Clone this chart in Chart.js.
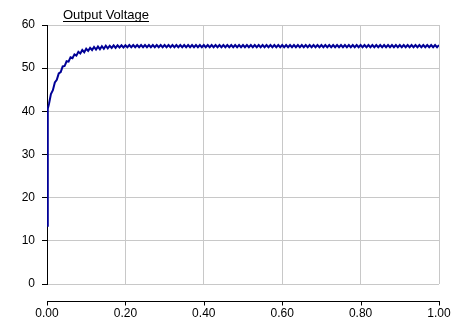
<!DOCTYPE html>
<html>
<head>
<meta charset="utf-8">
<script src="https://cdn.jsdelivr.net/npm/chart.js@4"></script>
<style>
html,body{margin:0;padding:0;background:#fff;}
canvas{display:block;}
</style>
</head>
<body>
<canvas id="c" width="451" height="329"></canvas>
<script>
const chartTitle = "Output Voltage";
const xTickValues = [0, 0.2, 0.4, 0.6, 0.8, 1.0];
const yTickValues = [0, 10, 20, 30, 40, 50, 60];

const times = [0, 0.002,
0.005,0.01,0.015,0.02,0.025,0.03,0.035,0.04,0.045,0.05,
0.055,0.06,0.065,0.07,0.075,0.08,0.085,0.09,0.095,0.1,
0.105,0.11,0.115,0.12,0.125,0.13,0.135,0.14,0.145,0.15,
0.155,0.16,0.165,0.17,0.175,0.18,0.185,0.19,0.195,0.2,
0.205,0.21,0.215,0.22,0.225,0.23,0.235,0.24,0.245,0.25,
0.255,0.26,0.265,0.27,0.275,0.28,0.285,0.29,0.295,0.3,
0.305,0.31,0.315,0.32,0.325,0.33,0.335,0.34,0.345,0.35,
0.355,0.36,0.365,0.37,0.375,0.38,0.385,0.39,0.395,0.4,
0.405,0.41,0.415,0.42,0.425,0.43,0.435,0.44,0.445,0.45,
0.455,0.46,0.465,0.47,0.475,0.48,0.485,0.49,0.495,0.5,
0.505,0.51,0.515,0.52,0.525,0.53,0.535,0.54,0.545,0.55,
0.555,0.56,0.565,0.57,0.575,0.58,0.585,0.59,0.595,0.6,
0.605,0.61,0.615,0.62,0.625,0.63,0.635,0.64,0.645,0.65,
0.655,0.66,0.665,0.67,0.675,0.68,0.685,0.69,0.695,0.7,
0.705,0.71,0.715,0.72,0.725,0.73,0.735,0.74,0.745,0.75,
0.755,0.76,0.765,0.77,0.775,0.78,0.785,0.79,0.795,0.8,
0.805,0.81,0.815,0.82,0.825,0.83,0.835,0.84,0.845,0.85,
0.855,0.86,0.865,0.87,0.875,0.88,0.885,0.89,0.895,0.9,
0.905,0.91,0.915,0.92,0.925,0.93,0.935,0.94,0.945,0.95,
0.955,0.96,0.965,0.97,0.975,0.98,0.985,0.99,0.995,1.0];

const voltage = [13.5, 40.6,
41.7,44.0,44.9,46.7,47.3,48.8,49.1,50.4,50.5,51.6,
51.5,52.5,52.3,53.2,52.9,53.8,53.4,54.2,53.7,54.5,
54.0,54.7,54.2,54.9,54.3,55.0,54.4,55.1,54.5,55.2,
54.6,55.2,54.7,55.3,54.7,55.3,54.8,55.3,54.8,55.3,
54.85,55.35,54.85,55.35,54.85,55.35,54.85,55.35,54.85,55.35,
54.85,55.35,54.85,55.35,54.85,55.35,54.85,55.35,54.85,55.35,
54.85,55.35,54.85,55.35,54.85,55.35,54.85,55.35,54.85,55.35,
54.85,55.35,54.85,55.35,54.85,55.35,54.85,55.35,54.85,55.35,
54.85,55.35,54.85,55.35,54.85,55.35,54.85,55.35,54.85,55.35,
54.85,55.35,54.85,55.35,54.85,55.35,54.85,55.35,54.85,55.35,
54.85,55.35,54.85,55.35,54.85,55.35,54.85,55.35,54.85,55.35,
54.85,55.35,54.85,55.35,54.85,55.35,54.85,55.35,54.85,55.35,
54.85,55.35,54.85,55.35,54.85,55.35,54.85,55.35,54.85,55.35,
54.85,55.35,54.85,55.35,54.85,55.35,54.85,55.35,54.85,55.35,
54.85,55.35,54.85,55.35,54.85,55.35,54.85,55.35,54.85,55.35,
54.85,55.35,54.85,55.35,54.85,55.35,54.85,55.35,54.85,55.35,
54.85,55.35,54.85,55.35,54.85,55.35,54.85,55.35,54.85,55.35,
54.85,55.35,54.85,55.35,54.85,55.35,54.85,55.35,54.85,55.35,
54.85,55.35,54.85,55.35,54.85,55.35,54.85,55.35,54.85,55.35,
54.85,55.35,54.85,55.35,54.85,55.35,54.85,55.35,54.85,55.35];

const FONT = "'Liberation Sans', Arial, sans-serif";
Chart.defaults.font.family = FONT;
Chart.defaults.font.size = 12;
Chart.defaults.color = '#000';

const titlePlugin = {
  id: 'ulTitle',
  afterDraw(chart) {
    const ctx = chart.ctx;
    ctx.save();
    ctx.font = "13px " + FONT;
    ctx.fillStyle = '#000';
    ctx.textBaseline = 'alphabetic';
    ctx.textAlign = 'left';
    const x0 = 63;
    ctx.fillText(chartTitle, x0, 18.5);
    const w = ctx.measureText(chartTitle).width;
    ctx.strokeStyle = '#000';
    ctx.lineWidth = 1;
    ctx.beginPath();
    ctx.moveTo(x0, 21.5);
    ctx.lineTo(x0 + w, 21.5);
    ctx.stroke();
    ctx.restore();
  }
};

const xAxisPlugin = {
  id: 'offsetXAxis',
  afterDraw(chart) {
    const xs = chart.scales.x;
    const ctx = chart.ctx;
    const y = 301.5;
    ctx.save();
    ctx.strokeStyle = '#000';
    ctx.lineWidth = 1;
    ctx.beginPath();
    const a = Math.round(xs.getPixelForValue(xTickValues[0])) + 0.5;
    const b = Math.round(xs.getPixelForValue(xTickValues[xTickValues.length-1])) + 0.5;
    ctx.moveTo(a - 0.5, y);
    ctx.lineTo(b + 0.5, y);
    xTickValues.forEach(v => {
      const px = Math.round(xs.getPixelForValue(v)) + 0.5;
      ctx.moveTo(px, y);
      ctx.lineTo(px, y + 4);
    });
    ctx.stroke();
    ctx.restore();
  }
};

new Chart(document.getElementById('c'), {
  type: 'line',
  data: {
    datasets: [{
      data: times.map((t, i) => ({x: t, y: voltage[i]})),
      borderColor: '#000096',
      borderWidth: 2,
      pointRadius: 0,
      tension: 0,
      fill: false
    }]
  },
  options: {
    responsive: false,
    animation: false,
    layout: {padding: {top: 25, right: 12, left: 0, bottom: 0}},
    plugins: {legend: {display: false}, title: {display: false}, tooltip: {enabled: false}},
    scales: {
      x: {
        type: 'linear',
        min: 0, max: 1,
        afterBuildTicks(scale) { scale.ticks = xTickValues.map(v => ({value: v})); },
        afterFit(scale) { scale.height = 45; scale.paddingLeft = 0; scale.paddingRight = 0; },
        ticks: {
          callback: v => Number(v).toFixed(2),
          padding: 22,
          maxRotation: 0,
          color: '#000',
          font: {size: 12}
        },
        grid: {color: '#c8c8c8', lineWidth: 1, drawTicks: false},
        border: {display: false}
      },
      y: {
        min: 0, max: 60,
        afterBuildTicks(scale) { scale.ticks = yTickValues.map(v => ({value: v})); },
        afterFit(scale) { scale.width = 47; scale.paddingTop = 0; scale.paddingBottom = 0; },
        ticks: {padding: 7, color: '#000', font: {size: 12}},
        grid: {color: '#c8c8c8', lineWidth: 1, drawTicks: true, tickLength: 5, tickColor: '#000'},
        border: {display: true, color: '#000', width: 1}
      }
    }
  },
  plugins: [titlePlugin, xAxisPlugin]
});
</script>
</body>
</html>
